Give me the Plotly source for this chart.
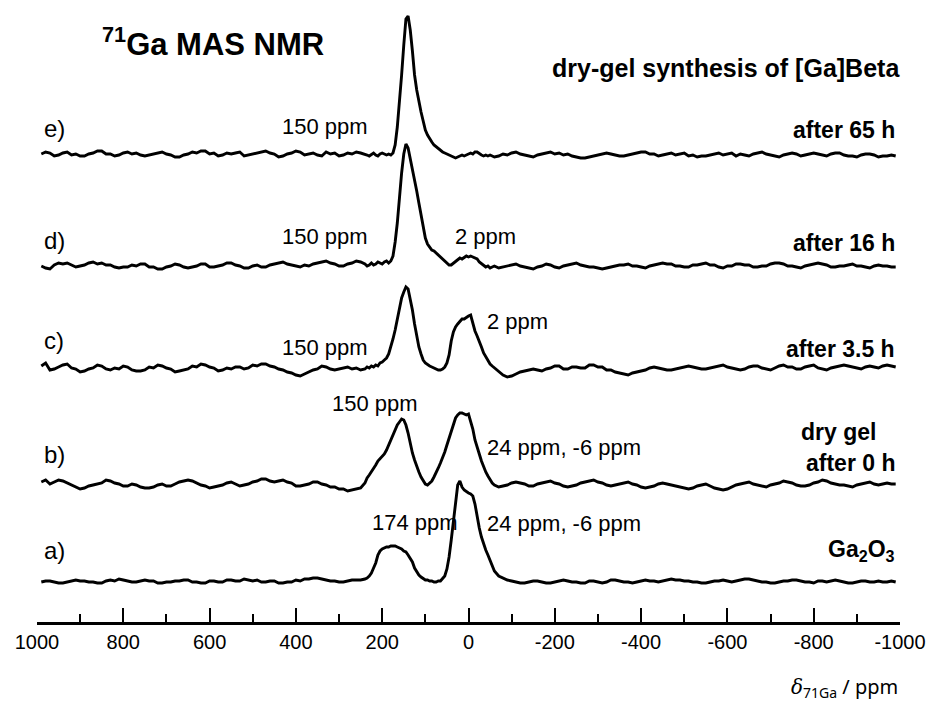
import plotly.graph_objects as go

# ---------------- data ----------------
# chemical shift grid (ppm): 10 ppm steps on the baselines, 5 ppm across the peaks
ppm_left = list(range(990, 249, -10))
ppm_peak = list(range(240, -61, -5))
ppm_right = list(range(-70, -991, -10))
ppm = ppm_left + ppm_peak + ppm_right

# intensities (arbitrary units, 0 = spectrum baseline)
e_left = [1, 3, 2, -1, 0, 2, 3, 0, 1, -1, -1, 1, 2, 4, 4, 1, 1, -1, 0, 2,
          3, 1, 2, 0, -1, 0, 1, 2, 3, 1, 0, -2, -2, 0, 1, 3, 2, 4, 4, 1,
          2, -1, 0, 2, 1, 2, 3, -1, 0, 1, 2, 3, 4, 2, 1, -2, -1, 1, 2, 4,
          3, 0, 1, 2, 0, -1, 3, 1, 2, -1, 0, 2, 1, 3, 2]
e_peak = [1, 0, -1, 1, 2, 0, -1, 1, 2, 1, 0, 1, 0, 2,
          10, 28, 52, 80, 110, 136, 139, 125, 104, 80, 65, 53, 43, 34,
          25, 20, 16, 13, 10, 8, 6, 5, 3, 2, 1, 0, -1, -2,
          -3, -2, -1, 0, -1, 0, 1, 2, 1, 3, 3, 1, 0, -1,
          0, -1, 0, -1, -2]
e_right = [-1, 1, 0, 2, 3, 1, 0, -1, -2, 0, 1, 2, 3, 1, 2, 0, 1, -1, -2, -3,
           -3, -2, -1, 0, 1, 2, 1, 0, -1, -1, 0, 1, 2, 3, 3, 1, 1, -1, 0, 1,
           2, 0, 1, 2, -1, 0, -2, -1, -1, 0, 1, 2, 0, 1, 2, -1, 1, 0, -1, 1,
           2, 3, 1, 0, -1, -2, 0, 1, 2, 1, -1, 0, 1, 2, 1, 0, -1, 1, 2, 2,
           0, -1, -1, -2, 0, 1, 1, 0, -2, -1, -1, 0, -1]

d_left = [0, -2, -3, 1, 3, 2, 3, 1, -1, 0, 1, 3, 4, 2, 3, 1, 1, -1, -2, -1,
          -1, 1, 0, 2, 2, -1, -1, -3, -3, -1, 0, 2, 1, -1, -2, -1, 0, 2, 2, -1,
          -1, 0, 1, 3, 3, 1, 0, -2, -2, 0, 1, -1, -1, 1, 2, 3, 4, 2, 1, 0,
          -1, 1, 0, 2, 3, 4, 5, 3, 2, 0, 0, 2, 3, 5, 4]
d_peak = [2, 0, 1, 3, 1, 2, 4, 3, 2, 4, 5, 3, 5, 10,
          24, 43, 70, 93, 112, 122, 118, 108, 98, 87, 75, 63, 50, 37,
          28, 22, 19, 16, 15, 13, 12, 9, 7, 5, 3, 1, 1, 3,
          4, 6, 8, 7, 9, 10, 9, 10, 9, 8, 7, 4, 2, 0,
          -1, 0, -2, -1, 0]
d_right = [-2, -1, 0, 1, 2, 0, -1, -2, -3, -1, 0, 2, 1, -1, -2, 0, 1, 2, 3, 1,
           0, -1, -1, -2, -3, -2, -1, 0, 1, 1, 2, 0, 0, -1, -2, 0, 1, 2, 3, 2,
           2, 0, 0, -1, -1, 1, 1, 2, 3, 1, 1, -1, -2, 0, 0, 2, 2, 1, 1, -1,
           -1, 0, 0, 2, 3, 3, 2, 0, 0, -1, -2, 0, 1, 2, 3, 2, 1, -1, -1, 0,
           0, 1, 2, 0, 0, -1, -2, 0, 1, 0, 0, -1, -1]

c_left = [3, 6, -1, 0, 2, 4, 5, 1, 0, -3, -2, 0, 1, 4, 3, 0, -1, 1, 0, 3,
          2, -1, -2, -2, -1, 2, 1, 4, 3, 1, 0, -3, -2, -1, 0, 3, 2, 5, 4, 2,
          1, -2, -1, 1, 0, 2, 2, 0, 1, 4, 3, 5, 5, 3, 2, 0, -1, -3, -4, -6,
          -7, -5, -3, -1, 0, 3, 2, 0, -1, 0, 1, 2, 0, 1, -1]
c_peak = [0, 2, 1, 3, 2, 4, 3, 6, 7, 9, 11, 15, 22, 30,
          39, 50, 62, 71, 77, 82, 80, 70, 59, 45, 33, 22, 15, 9,
          6, 4, 3, 2, 1, 0, -1, -1, 0, 2, 6, 14, 28, 37,
          42, 45, 48, 50, 50, 52, 53, 54, 46, 38, 33, 28, 22, 16,
          12, 8, 5, 3, 1]
c_right = [-3, -6, -8, -7, -5, -3, -2, -1, 0, -1, -2, 0, 1, 3, 3, 0, 0, 2, 2, 1,
           1, 4, 4, 2, 2, -1, -1, -3, -4, -5, -6, -4, -3, -2, -1, 1, 2, 1, 0, -1,
           -1, 0, 1, 2, 3, 2, 1, 0, 0, 1, 2, 3, 4, 2, 1, 0, -1, 0, 2, 3,
           3, 1, 0, -1, 1, 3, 4, 2, 2, 0, 0, 2, 3, 4, 1, 0, -1, 1, 2, 3,
           4, 3, 2, 1, 0, 2, 3, 2, 1, 3, 4, 3, 2]

b_left = [3, 5, 1, 3, 5, 4, 2, 0, -2, -4, -3, -1, 0, 1, 2, 5, 4, 2, 1, -1,
          -1, 1, 0, -2, -3, -3, -2, 0, 1, -1, -1, 1, 3, 4, 5, 4, 2, 0, -1, -3,
          -2, -1, 0, 2, 3, 1, -1, 0, 1, 3, 4, 6, 6, 4, 3, 4, 5, 3, 2, -1,
          -1, 0, 1, 3, 3, 1, 0, -2, -2, -4, -4, -6, -5, -4, -3]
b_peak = [2, 7, 10, 13, 17, 20, 24, 26, 28, 31, 35, 40, 45, 50,
          55, 60, 63, 66, 65, 60, 52, 41, 32, 25, 18, 13, 8, 4,
          1, 0, 2, 4, 8, 12, 17, 22, 27, 33, 40, 47, 54, 61,
          67, 70, 72, 72, 71, 70, 71, 64, 56, 45, 37, 31, 24, 18,
          13, 9, 5, 2, 0]
b_right = [-2, -1, 0, 2, 3, 2, 1, -1, -1, 1, 2, 3, 4, 2, 1, -1, -2, -1, 0, 2,
           3, 4, 5, 3, 2, 0, -1, 0, 1, 2, 3, 1, 0, -2, -3, -2, -1, 1, 2, 1,
           0, -1, -2, -3, -4, -3, -1, 0, 1, -1, -3, -4, -5, -4, -2, 0, 1, 2, 3, 1,
           0, -1, -2, 0, 1, 2, 4, 3, 2, 0, -1, -1, 0, 2, 3, 5, 4, 2, 1, 0,
           0, -1, -2, 0, 1, 2, 3, 1, 0, 1, 2, 1, 1]

a_left = [0, 1, 1, 0, -1, -1, 0, 1, 2, 1, 1, 0, 0, -1, -1, 1, 2, 1, 3, 2,
          1, 0, 0, 1, 2, 1, 1, -1, -1, 0, 0, 1, 1, 2, 2, 0, 0, -1, -1, 1,
          1, 0, 0, 2, 2, 1, 1, 3, 2, 1, 2, 0, 0, 1, 1, -1, -1, 0, 0, 2,
          1, 3, 3, 4, 4, 3, 2, 1, 1, 0, 0, 1, 2, 2, 2]
a_peak = [3, 4, 6, 9, 14, 19, 27, 31, 33, 34, 35, 35, 36, 36,
          36, 35, 34, 33, 31, 30, 27, 24, 20, 14, 10, 7, 5, 3,
          2, 2, 1, 1, 0, 0, 1, 1, 3, 6, 13, 25, 42, 62,
          81, 97, 101, 95, 92, 90, 89, 88, 86, 78, 65, 54, 45, 38,
          32, 27, 21, 15, 11]
a_right = [6, 4, 2, 1, 0, -1, -1, 0, 1, 1, 0, -1, -1, 0, 1, 2, 1, 0, 0, -1,
           -1, 1, 1, 0, -1, 0, 2, 2, 1, 0, 0, -1, 0, 1, 2, 1, 1, 0, 1, 2,
           3, 2, 2, 1, 1, 0, 0, -1, -1, 0, 1, 1, 2, 1, 0, 1, 2, 3, 3, 2,
           1, 0, 0, -1, -1, 0, 1, 1, 2, 2, 1, 0, 0, -1, 1, 1, 0, 1, 2, 1,
           0, -1, -1, 0, 1, 1, 0, 0, 1, 0, 0, 1, 0]

spectrum_names = ["a)", "b)", "c)", "d)", "e)"]
spectra = [a_left + a_peak + a_right,
           b_left + b_peak + b_right,
           c_left + c_peak + c_right,
           d_left + d_peak + d_right,
           e_left + e_peak + e_right]

tick_values = [1000, 800, 600, 400, 200, 0, -200, -400, -600, -800, -1000]
tick_labels = ["1000", "800", "600", "400", "200", "0", "-200", "-400", "-600", "-800", "-1000"]

# ---------------- layout helpers ----------------
W, H = 934, 708
L, R, T, B = 37, 34, 0, 86
PW, PH = W - L - R, H - T - B
stack_offsets = [40, 137, 253, 356, 467]   # vertical stacking of spectra (plot units)


def px(x):
    return (x - L) / PW


def py(y):
    return (H - B - y) / PH


FONT = "Liberation Sans, Arial, sans-serif"

fig = go.Figure()
for name, vals, off in zip(spectrum_names, spectra, stack_offsets):
    fig.add_trace(go.Scatter(
        x=ppm, y=[v + off for v in vals], mode="lines", name=name,
        line=dict(color="black", width=2.9), showlegend=False,
        hoverinfo="skip"))

ann = []


def text(s, x, y, size, xanchor="left", bold=False):
    ann.append(dict(
        text=f"<b>{s}</b>" if bold else s, x=px(x), y=py(y), xref="paper", yref="paper",
        xanchor=xanchor, yanchor="middle", showarrow=False,
        font=dict(size=size, family=FONT, color="black")))


text("<sup>71</sup>Ga MAS NMR", 100, 42, 31, bold=True)
text("dry-gel synthesis of [Ga]Beta", 902, 68, 25, "right", bold=True)

text("e)", 42, 128, 24)
text("d)", 42, 240, 24)
text("c)", 42, 340, 24)
text("b)", 42, 454, 24)
text("a)", 42, 550, 24)

text("150 ppm", 280, 127, 22)
text("150 ppm", 280, 237, 22)
text("2 ppm", 453, 237, 22)
text("150 ppm", 280, 347, 22)
text("2 ppm", 485, 322, 22)
text("150 ppm", 330, 404, 22)
text("24 ppm, -6 ppm", 485, 447, 22)
text("174 ppm", 370, 522, 22)
text("24 ppm, -6 ppm", 485, 523, 22)

text("after 65 h", 897, 130, 23, xanchor="right", bold=True)
text("after 16 h", 897, 243, 23, xanchor="right", bold=True)
text("after 3.5 h", 897, 349, 23, xanchor="right", bold=True)
text("dry gel", 878, 432, 23, xanchor="right", bold=True)
text("after 0 h", 897, 463, 23, xanchor="right", bold=True)
text("Ga<sub>2</sub>O<sub>3</sub>", 897, 550, 23, xanchor="right", bold=True)

ann.append(dict(
    text="<i><span style='font-family:DejaVu Serif'>δ</span></i><sub>71Ga</sub> / ppm",
    x=px(900), y=py(687), xref="paper", yref="paper", xanchor="right", yanchor="middle",
    showarrow=False, font=dict(size=20, family="Noto Sans, Open Sans, sans-serif", color="black")))

fig.update_layout(
    width=W, height=H,
    margin=dict(l=L, r=R, t=T, b=B, pad=0, autoexpand=False),
    paper_bgcolor="white", plot_bgcolor="white",
    annotations=ann,
    xaxis=dict(
        range=[1000, -1000], showgrid=False, zeroline=False, automargin=False,
        showline=True, linecolor="black", linewidth=2.6,
        ticks="inside", ticklen=14, tickwidth=2.2, tickcolor="black",
        tickmode="array", tickvals=tick_values, ticktext=tick_labels,
        tickfont=dict(size=20, family=FONT, color="black"),
        minor=dict(dtick=100, tick0=0, ticks="inside", ticklen=8, tickwidth=2.2, tickcolor="black"),
    ),
    yaxis=dict(range=[0, PH], visible=False, showgrid=False, zeroline=False, automargin=False),
)

fig.write_html("out.html", config={"displayModeBar": False},
               post_script="document.body.style.margin='0px';document.body.style.overflow='hidden';")
